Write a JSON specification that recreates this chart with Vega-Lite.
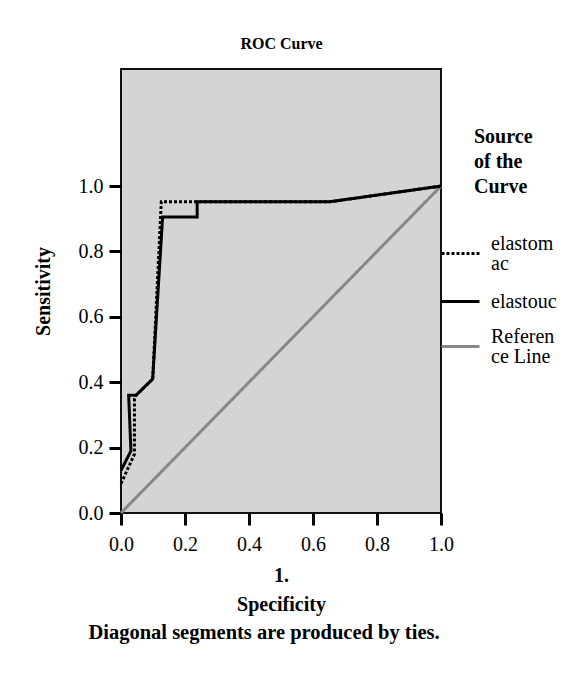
{
  "$schema": "https://vega.github.io/schema/vega-lite/v6.json",
  "autosize": {"type": "none"},
  "padding": {"left": 121, "top": 69, "right": 124, "bottom": 167},
  "width": 320,
  "height": 444,
  "background": "white",
  "title": {"text": "Diagonal segments are produced by ties.", "orient": "bottom", "anchor": "middle", "frame": "group", "dx": -17, "offset": 9, "font": "Liberation Serif", "fontSize": 20.5, "fontWeight": "bold", "color": "#000"},
  "config": {
    "view": {"fill": "#d4d4d4", "stroke": "#111", "strokeWidth": 2},
    "axis": {"labelFont": "Liberation Serif", "labelFontSize": 20, "labelColor": "#000", "labelFlush": false, "titleFont": "Liberation Serif", "titleFontSize": 20, "titleFontWeight": "bold", "titleColor": "#000", "domain": false, "grid": false, "tickColor": "#000", "tickWidth": 3, "tickSize": 12},
    "legend": {"labelFont": "Liberation Serif", "labelFontSize": 20, "labelColor": "#000", "titleFont": "Liberation Serif", "titleFontSize": 20, "titleFontWeight": "bold", "titleColor": "#000", "titleLineHeight": 25, "titlePadding": 36, "symbolType": "stroke", "symbolSize": 1444, "symbolStrokeWidth": 3, "rowPadding": 7, "labelOffset": 10, "labelLimit": 200}
  },
  "data": {"values": [
    {"series": "elastomac", "step": 1, "spec": 0.0, "sens": 0.09},
    {"series": "elastomac", "step": 2, "spec": 0.042, "sens": 0.18},
    {"series": "elastomac", "step": 3, "spec": 0.042, "sens": 0.35},
    {"series": "elastomac", "step": 4, "spec": 0.047, "sens": 0.36},
    {"series": "elastomac", "step": 5, "spec": 0.099, "sens": 0.41},
    {"series": "elastomac", "step": 6, "spec": 0.126, "sens": 0.952},
    {"series": "elastomac", "step": 7, "spec": 0.653, "sens": 0.952},
    {"series": "elastomac", "step": 8, "spec": 1.0, "sens": 1.0},
    {"series": "elastouc", "step": 1, "spec": 0.0, "sens": 0.13},
    {"series": "elastouc", "step": 2, "spec": 0.031, "sens": 0.19},
    {"series": "elastouc", "step": 3, "spec": 0.024, "sens": 0.36},
    {"series": "elastouc", "step": 4, "spec": 0.047, "sens": 0.36},
    {"series": "elastouc", "step": 5, "spec": 0.099, "sens": 0.41},
    {"series": "elastouc", "step": 6, "spec": 0.13, "sens": 0.905},
    {"series": "elastouc", "step": 7, "spec": 0.238, "sens": 0.905},
    {"series": "elastouc", "step": 8, "spec": 0.238, "sens": 0.952},
    {"series": "elastouc", "step": 9, "spec": 0.653, "sens": 0.952},
    {"series": "elastouc", "step": 10, "spec": 1.0, "sens": 1.0},
    {"series": "Reference Line", "step": 1, "spec": 0.0, "sens": 0.0},
    {"series": "Reference Line", "step": 2, "spec": 1.0, "sens": 1.0}
  ]},
  "resolve": {"axis": {"x": "independent"}},
  "layer": [
    {
      "transform": [{"filter": "datum.series == 'Reference Line'"}],
      "mark": {"type": "line", "strokeWidth": 3, "strokeCap": "butt"},
      "encoding": {
        "x": {"field": "spec", "type": "quantitative", "scale": {"domain": [0, 1], "nice": false},
          "axis": {"orient": "top", "labels": false, "ticks": false, "title": "ROC Curve", "titleFontSize": 16, "titlePadding": 18}},
        "y": {"field": "sens", "type": "quantitative", "scale": {"domain": [0, 1.358], "nice": false},
          "axis": {"values": [0, 0.2, 0.4, 0.6, 0.8, 1.0], "format": ".1f", "labelPadding": 6, "title": "Sensitivity", "titlePadding": 25}},
        "order": {"field": "step", "type": "quantitative"},
        "color": {"field": "series", "type": "nominal", "title": ["Source", "of the", "Curve"],
          "scale": {"domain": ["elastomac", "elastouc", "Reference Line"], "range": ["#000000", "#000000", "#888888"]},
          "legend": {"orient": "none", "legendX": 353, "legendY": 58, "symbolOffset": -34, "labelExpr": "datum.label == 'elastomac' ? ['elastom', 'ac'] : datum.label == 'Reference Line' ? ['Referen', 'ce Line'] : ['elastouc', '']", "encode": {"labels": {"update": {"lineHeight": {"signal": "datum.label == 'elastouc' ? 7 : 20"}, "dy": {"signal": "datum.label == 'elastouc' ? 0 : -10"}}}}}},
        "strokeDash": {"field": "series", "type": "nominal", "title": ["Source", "of the", "Curve"],
          "scale": {"domain": ["elastomac", "elastouc", "Reference Line"], "range": [[3, 2], [1, 0], [1, 0]]},
          "legend": {"orient": "none", "legendX": 353, "legendY": 58, "symbolOffset": -34, "labelExpr": "datum.label == 'elastomac' ? ['elastom', 'ac'] : datum.label == 'Reference Line' ? ['Referen', 'ce Line'] : ['elastouc', '']", "encode": {"labels": {"update": {"lineHeight": {"signal": "datum.label == 'elastouc' ? 7 : 20"}, "dy": {"signal": "datum.label == 'elastouc' ? 0 : -10"}}}}}}
      }
    },
    {
      "transform": [{"filter": "datum.series != 'Reference Line'"}],
      "mark": {"type": "line", "strokeWidth": 3, "strokeCap": "butt", "strokeJoin": "miter"},
      "encoding": {
        "x": {"field": "spec", "type": "quantitative",
          "axis": {"orient": "bottom", "values": [0, 0.2, 0.4, 0.6, 0.8, 1.0], "format": ".1f", "labelPadding": 9, "title": ["1.", "Specificity"], "titleLineHeight": 29, "titlePadding": 11}},
        "y": {"field": "sens", "type": "quantitative"},
        "order": {"field": "step", "type": "quantitative"},
        "color": {"field": "series", "type": "nominal", "title": ["Source", "of the", "Curve"],
          "legend": {"orient": "none", "legendX": 353, "legendY": 58, "symbolOffset": -34, "labelExpr": "datum.label == 'elastomac' ? ['elastom', 'ac'] : datum.label == 'Reference Line' ? ['Referen', 'ce Line'] : ['elastouc', '']", "encode": {"labels": {"update": {"lineHeight": {"signal": "datum.label == 'elastouc' ? 7 : 20"}, "dy": {"signal": "datum.label == 'elastouc' ? 0 : -10"}}}}}},
        "strokeDash": {"field": "series", "type": "nominal", "title": ["Source", "of the", "Curve"],
          "legend": {"orient": "none", "legendX": 353, "legendY": 58, "symbolOffset": -34, "labelExpr": "datum.label == 'elastomac' ? ['elastom', 'ac'] : datum.label == 'Reference Line' ? ['Referen', 'ce Line'] : ['elastouc', '']", "encode": {"labels": {"update": {"lineHeight": {"signal": "datum.label == 'elastouc' ? 7 : 20"}, "dy": {"signal": "datum.label == 'elastouc' ? 0 : -10"}}}}}}
      }
    }
  ]
}
